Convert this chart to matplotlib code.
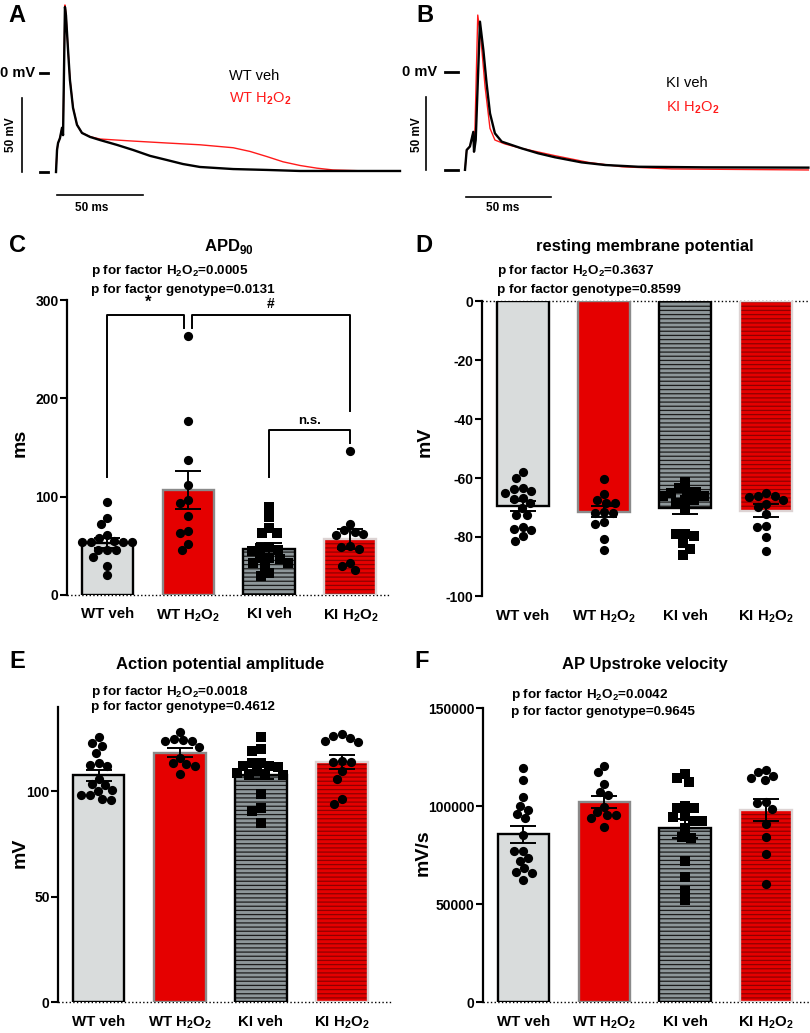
import numpy as np
import matplotlib.pyplot as plt

plt.rcParams['font.family'] = ['Liberation Sans', 'DejaVu Sans']
plt.rcParams['font.weight'] = 'bold'
plt.rcParams['mathtext.fontset'] = 'custom'
plt.rcParams['mathtext.rm'] = 'Liberation Sans'
plt.rcParams['mathtext.bf'] = 'Liberation Sans:bold'
plt.rcParams['hatch.linewidth'] = 0.9

W, H = 810, 1033

groups = ['WT veh', r'WT H$_\mathbf{2}$O$_\mathbf{2}$', 'KI veh', r'KI H$_\mathbf{2}$O$_\mathbf{2}$']

# action potential traces (ms, mV)
wt_veh_t = [0, 0.6, 1.2, 2.3, 3.5, 4.1, 5.2, 5.8, 7.0, 8.1, 9.9, 12.2, 15.1, 19.8, 25.6,
            35.5, 44.8, 54.7, 64.5, 73.8, 83.7, 103, 122.7, 141.9, 171, 200]
wt_veh_v = [-66.9, -52, -47.3, -44, -37, -42, 44.6, 39, 15.5, -4.7, -23.6, -35, -40.5, -43.2, -45.3,
            -48.6, -52, -56, -58.8, -61.5, -63.5, -64.9, -65.5, -66.2, -66.2, -66.2]
wt_h2o2_t = [0, 0.6, 1.2, 2.3, 3.5, 4.1, 5.2, 5.8, 7.0, 8.1, 9.9, 12.2, 15.1, 19.8, 25.6,
             44.8, 64.5, 83.7, 103, 112.8, 122.7, 132, 141.9, 151.7, 161, 180.8, 200]
wt_h2o2_v = [-66.9, -52, -47.3, -44, -37, -42, 46, 40, 16, -4, -23, -35, -40.5, -43, -44.6,
             -46, -47.3, -48.5, -50.5, -53, -56.5, -60, -62.5, -64.3, -65.5, -66.2, -66.2]
ki_veh_t = [0, 1, 2.9, 4.9, 5.3, 6.3, 8.8, 10.8, 12.7, 14.7, 17.6, 21.6, 33.3, 43.1, 52.9,
            68.6, 82.4, 102, 141, 202]
ki_veh_v = [-67, -53.4, -51, -41, -54.6, -46.6, 34.5, 15, -7.8, -28.3, -42, -47.7, -52.3, -55.7, -58.4,
            -61.9, -63.7, -64.9, -65.3, -65.5]
ki_h2o2_t = [0, 1, 2.9, 4.9, 5.3, 5.9, 7.5, 9.4, 11.8, 14.7, 17.6, 23.5, 33.3, 52.9, 72.5,
             92.2, 121.6, 202]
ki_h2o2_v = [-67, -53.4, -51, -41, -54.6, -37.5, 39, 22, -10, -38.6, -46.6, -49.3, -52.3, -57.3, -61.9,
             -64.9, -66.4, -67.1]

# APD90 (ms)
apd_means = [53, 107, 47, 57]
apd_sems = [5, 19.5, 5.5, 10]
apd_pts = [
    [95, 78, 72, 61, 58, 55, 54, 54, 54, 54, 46, 46, 46, 39, 30, 20],
    [263, 177, 137, 112, 97, 94, 80, 65, 63, 52, 46],
    [90, 79, 68, 63, 63, 49, 48, 46, 45, 38, 38, 37, 33, 33, 30, 22, 19],
    [146, 72, 66, 64, 62, 61, 50, 49, 47, 33, 29, 25],
]

# resting membrane potential (mV)
rmp_means = [-69.5, -71.4, -70.3, -71.1]
rmp_sems = [1.7, 1.8, 1.8, 2.2]
rmp_pts = [
    [-58, -60, -63.8, -63.5, -64.3, -65, -67, -66.7, -70, -68.6, -72.5, -72.5, -77.6, -76.5, -77.4, -79.6, -81.4],
    [-60.3, -65.4, -68.6, -68.6, -67.5, -71.8, -71.6, -71.8, -75.7, -74.8, -80.8, -84.4],
    [-61.2, -63.5, -64.6, -64.6, -65, -66, -66, -67.5, -67.5, -68.6, -70.8, -79, -79, -79.5, -82, -84, -86],
    [-66.1, -65.2, -66.3, -66.1, -67.5, -68.8, -69.7, -72.2, -76.5, -76.3, -79.9, -84.7],
]

# action potential amplitude (mV)
apa_means = [107.6, 118.4, 107.8, 113.7]
apa_sems = [2.7, 2.0, 2.2, 3.3]
apa_pts = [
    [125.6, 121.6, 122.9, 118.4, 112, 112.4, 113.3, 106, 103.3, 100.5, 103, 100.1, 98.2, 96.2, 98.2, 95.7],
    [128.2, 124, 124.8, 124, 124.3, 121.1, 116, 113.2, 112.9, 112, 108.1],
    [126, 120.3, 118.9, 113.3, 113.3, 112, 112, 111.3, 107.8, 107.8, 108.9, 109.4, 107.8, 98.6, 91.9, 90.6, 84.8],
    [127.1, 124, 123.5, 125.1, 126.3, 113.9, 114.4, 113.9, 109.4, 105.7, 96.5, 94.1],
]

# upstroke velocity (mV/s)
vmax_means = [85500, 102200, 88600, 98000]
vmax_sems = [4500, 3000, 4800, 5500]
vmax_pts = [
    [119200, 113300, 104400, 100200, 98000, 95900, 93700, 85200, 77200, 77200, 73300, 72100, 68200, 66200, 65700, 62200],
    [120400, 117200, 111200, 107300, 105600, 97100, 95300, 95300, 99700, 93700, 89500],
    [116200, 114400, 112100, 98800, 100200, 98800, 92500, 94600, 94900, 92500, 88600, 83500, 84300, 71900, 63600, 56600, 52000],
    [118400, 117200, 114100, 115300, 113300, 102200, 98500, 101400, 90700, 84300, 75500, 60200],
]

bar_face = ['#d9dcdc', '#e50000', '#8e979a', '#e50000']
bar_edge = ['black', '#8a8a8a', 'black', '#ddd3d3']
bar_hatch = [None, None, '----', '----']
hatch_col = [None, None, '#1c1c1c', '#8e0000']
markers = ['o', 'o', 's', 'o']

fig = plt.figure(figsize=(W / 100, H / 100), dpi=100)


def px_axes(x0, y0, x1, y1):
    return fig.add_axes([x0 / W, 1 - y1 / H, (x1 - x0) / W, (y1 - y0) / H])


def ftext(x, y, s, **kw):
    fig.text(x / W, 1 - y / H, s, **kw)


def swarm(ax, vals, d=9.0):
    # simple beeswarm in pixel space, like the prism scatter layout
    y = ax.transData.transform(np.column_stack([np.zeros(len(vals)), vals]))[:, 1]
    xs = np.zeros(len(y))
    done = []
    for i in np.argsort(y)[::-1]:
        near = [j for j in done if abs(y[j] - y[i]) < d]
        cands = [0.0]
        for j in near:
            w = np.sqrt(d ** 2 - (y[j] - y[i]) ** 2)
            cands += [xs[j] - w, xs[j] + w]
        cands.sort(key=lambda c: (abs(c), c))
        for c in cands:
            if all((c - xs[j]) ** 2 + (y[j] - y[i]) ** 2 >= d ** 2 - 1e-6 for j in near):
                xs[i] = c
                break
        done.append(i)
    ppx = ax.transData.transform([[1, 0]])[0, 0] - ax.transData.transform([[0, 0]])[0, 0]
    return xs / ppx


def bar_panel(ax, means, sems, pts, ylim, yticks, xright):
    x = np.arange(4)
    ax.set_xlim(-0.5, xright)
    ax.set_ylim(*ylim)
    for i in range(4):
        if bar_hatch[i]:
            ax.bar(x[i], means[i], width=0.64, color=bar_face[i], edgecolor=hatch_col[i],
                   hatch=bar_hatch[i], linewidth=0, zorder=1)
            ax.bar(x[i], means[i], width=0.64, fill=False, edgecolor=bar_edge[i], linewidth=1.7, zorder=2)
        else:
            ax.bar(x[i], means[i], width=0.64, color=bar_face[i], edgecolor=bar_edge[i],
                   linewidth=1.7, zorder=2)
        off = swarm(ax, pts[i])
        ax.scatter(x[i] + off, pts[i], s=44, marker=markers[i], color='black', linewidths=0,
                   zorder=3, clip_on=False)
    ax.errorbar(x, means, yerr=sems, fmt='none', ecolor='black', elinewidth=1.4,
                capsize=9.5, capthick=1.4, zorder=4)
    ax.axhline(0, ls=':', color='black', lw=1.0, zorder=0, clip_on=False)
    for s in ['top', 'right', 'bottom']:
        ax.spines[s].set_visible(False)
    ax.spines['left'].set_linewidth(1.6)
    ax.set_yticks(yticks, [str(t) for t in yticks])
    ax.set_xticks(x, groups)
    ax.tick_params(axis='y', width=1.5, length=5, labelsize=10, pad=1)
    ax.tick_params(axis='x', length=0, labelsize=10.8, pad=9)


# ---------- A / B : AP traces ----------
axA = px_axes(0, 0, 405, 220)
axA.set_xlim((0 - 56) / 1.72, (405 - 56) / 1.72)
axA.set_ylim((73 - 220) / 1.48, 73 / 1.48)
axA.axis('off')
axA.plot(wt_h2o2_t, wt_h2o2_v, color='#ff1a1a', lw=1.0)
axA.plot(wt_veh_t, wt_veh_v, color='black', lw=1.7)
axA.plot([-9.3, -4.65], [0, 0], color='black', lw=2)
axA.plot([-9.3, -4.65], [-66.9, -66.9], color='black', lw=2)
axA.plot([-19.8, -19.8], [-66.9, -16.9], color='black', lw=1.2)
axA.plot([0.6, 50.6], [-82.4, -82.4], color='black', lw=1.2)
axA.text(-12.2, 0, '0 mV', ha='right', va='center', fontsize=10.5)
axA.text(-26.2, -41.9, '50 mV', ha='center', va='center', rotation=90, fontsize=8.5)
axA.text(21, -91.2, '50 ms', ha='center', va='center', fontsize=8.5)
axA.text(100.6, -2, 'WT veh', ha='left', va='center', fontsize=10.5, fontweight='normal')
axA.text(100.6, -17.6, r'WT H$_2$O$_2$', ha='left', va='center', fontsize=10.5,
         fontweight='normal', color='#ff1a1a')

axB = px_axes(405, 0, 810, 220)
axB.set_xlim((405 - 465) / 1.7, (810 - 465) / 1.7)
axB.set_ylim((72 - 220) / 1.46, 72 / 1.46)
axB.axis('off')
axB.plot(ki_h2o2_t, ki_h2o2_v, color='#ff1a1a', lw=1.0)
axB.plot(ki_veh_t, ki_veh_v, color='black', lw=1.7)
axB.plot([-11.8, -4.1], [0, 0], color='black', lw=2)
axB.plot([-11.8, -4.1], [-67.1, -67.1], color='black', lw=2)
axB.plot([-22.9, -22.9], [-67.1, -17.1], color='black', lw=1.2)
axB.plot([0.6, 50.6], [-85.6, -85.6], color='black', lw=1.2)
axB.text(-16.5, 0, '0 mV', ha='right', va='center', fontsize=10.5)
axB.text(-28.2, -43.2, '50 mV', ha='center', va='center', rotation=90, fontsize=8.5)
axB.text(22.4, -93.2, '50 ms', ha='center', va='center', fontsize=8.5)
axB.text(118, -7.5, 'KI veh', ha='left', va='center', fontsize=10.5, fontweight='normal')
axB.text(118, -24.7, r'KI H$_2$O$_2$', ha='left', va='center', fontsize=10.5,
         fontweight='normal', color='#ff1a1a')

# ---------- C : APD90 ----------
axC = px_axes(67, 300, 390, 595)
bar_panel(axC, apd_means, apd_sems, apd_pts, (0, 300), [0, 100, 200, 300], 3.49)
bk = dict(color='black', lw=1.4, clip_on=False)
axC.plot([0, 0, 0.95, 0.95], [120, 285, 285, 272], **bk)
axC.plot([1.04, 1.04, 3, 3], [272, 285, 285, 187], **bk)
axC.plot([2, 2, 3, 3], [120, 168, 168, 155], **bk)
axC.text(0.5, 290, '*', ha='center', va='bottom', fontsize=12)
axC.text(2.02, 289, '#', ha='center', va='bottom', fontsize=10)
axC.text(2.5, 171, 'n.s.', ha='center', va='bottom', fontsize=9.5)

# ---------- D : resting membrane potential ----------
axD = px_axes(482, 301, 810, 596)
bar_panel(axD, rmp_means, rmp_sems, rmp_pts, (-100, 0), [0, -20, -40, -60, -80, -100], 3.54)

# ---------- E : AP amplitude ----------
axE = px_axes(58, 707, 392, 1002)
bar_panel(axE, apa_means, apa_sems, apa_pts, (0, 140), [0, 50, 100], 3.62)

# ---------- F : upstroke velocity ----------
axF = px_axes(483, 708, 810, 1002)
bar_panel(axF, vmax_means, vmax_sems, vmax_pts, (0, 150000), [0, 50000, 100000, 150000], 3.54)

# panel letters
for lab, x, y in [('A', 17, 15), ('B', 425, 15), ('C', 17, 245), ('D', 424, 245),
                  ('E', 17, 661), ('F', 422, 661)]:
    ftext(x, y, lab, ha='center', va='center', fontsize=17)

# titles
ftext(229, 246, r'APD$_{\mathbf{90}}$', ha='center', va='center', fontsize=12)
ftext(645, 246, 'resting membrane potential', ha='center', va='center', fontsize=12)
ftext(220, 664, 'Action potential amplitude', ha='center', va='center', fontsize=12)
ftext(645, 664, 'AP Upstroke velocity', ha='center', va='center', fontsize=12)

# two-way ANOVA p values
for x, y1, y2, p1, p2 in [(91, 271, 290, '0.0005', '0.0131'), (497, 271, 290, '0.3637', '0.8599'),
                          (91, 692, 707, '0.0018', '0.4612'), (511, 695, 712, '0.0042', '0.9645')]:
    ftext(x, y1, r'p for factor H$_\mathbf{2}$O$_\mathbf{2}$=' + p1, ha='left', va='center', fontsize=9.7)
    ftext(x, y2, 'p for factor genotype=' + p2, ha='left', va='center', fontsize=9.7)

# y labels
ftext(20, 443, 'ms', ha='center', va='center', rotation=90, fontsize=14)
ftext(425, 442, 'mV', ha='center', va='center', rotation=90, fontsize=14)
ftext(20, 853, 'mV', ha='center', va='center', rotation=90, fontsize=14)
ftext(423, 853, 'mV/s', ha='center', va='center', rotation=90, fontsize=14)

fig.savefig('out.png', dpi=100)
